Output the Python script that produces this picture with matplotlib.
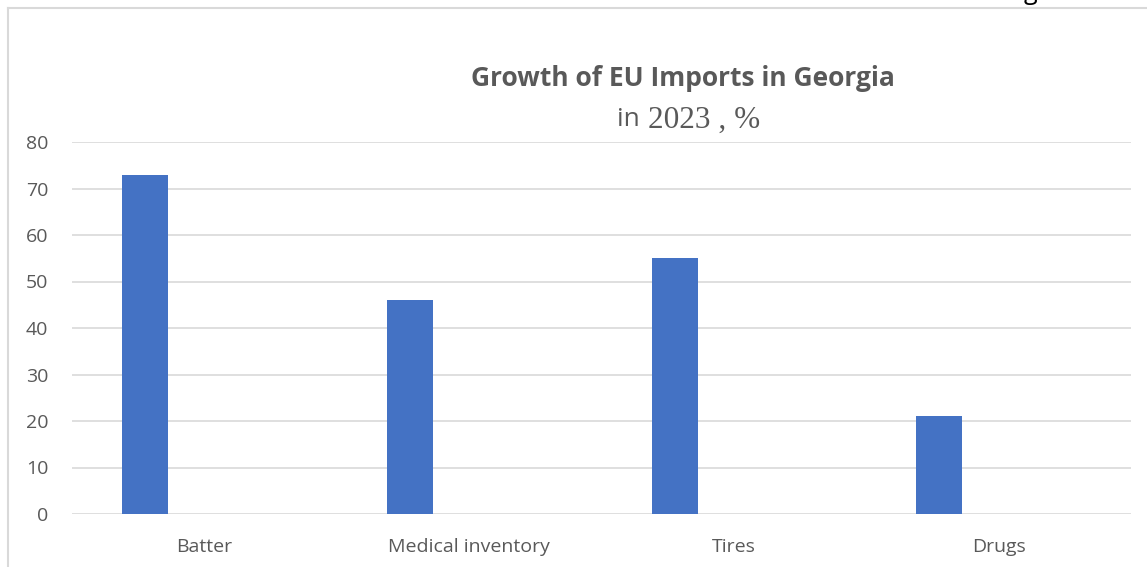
import matplotlib
matplotlib.use("Agg")
import matplotlib.pyplot as plt
from matplotlib.lines import Line2D
import numpy as np

categories = ["Batter", "Medical inventory", "Tires", "Drugs"]
values = [73, 46, 55, 21]
yticks = [0, 10, 20, 30, 40, 50, 60, 70, 80]

W, H = 1147, 567
fig = plt.figure(figsize=(W / 100, H / 100), dpi=100)
ax = fig.add_axes([72 / W, 1 - 514 / H, (1131 - 72) / W, (514 - 142) / H])

x = np.arange(len(categories))
ax.bar(x - 0.224, values, width=0.174, color="#4472C4", zorder=3)

ax.set_xlim(-0.5, len(categories) - 0.5)
ax.set_ylim(0, 80)
ax.set_yticks(yticks)
ax.set_xticks(x)
ax.set_xticklabels(categories)
ax.yaxis.grid(True, color="#D9D9D9", linewidth=1.2, zorder=0)
for s in ax.spines.values():
    s.set_visible(False)
ax.tick_params(axis="both", length=0, labelsize=14, labelcolor="#595959")
ax.tick_params(axis="y", pad=17)
ax.tick_params(axis="x", pad=17.5)
for lab in ax.get_xticklabels() + ax.get_yticklabels():
    lab.set_fontfamily("Open Sans")

# title
fig.text(683 / W, 1 - 78 / H, "Growth of EU Imports in Georgia", ha="center", va="center",
         fontsize=19, fontweight="bold", color="#595959", family="Open Sans")
fig.text(640 / W, 1 - 120 / H, "in", ha="right", va="center", fontsize=19,
         color="#595959", family="Open Sans")
fig.text(648 / W, 1 - 120 / H, "2023 , %", ha="left", va="center", fontsize=22.5,
         color="#595959", family="Liberation Serif")

# frame of the cropped screenshot
fig.add_artist(Line2D([8 / W, 1], [1 - 8 / H, 1 - 8 / H], transform=fig.transFigure,
                      color="#D9D9D9", linewidth=1.5))
fig.add_artist(Line2D([8 / W, 8 / W], [0, 1 - 8 / H], transform=fig.transFigure,
                      color="#D9D9D9", linewidth=1.5))
fig.text(1030 / W, 1 + 1 / H, "g", ha="center", va="baseline", fontsize=18,
         color="black", family="Open Sans")

fig.savefig("out.png", dpi=100)
